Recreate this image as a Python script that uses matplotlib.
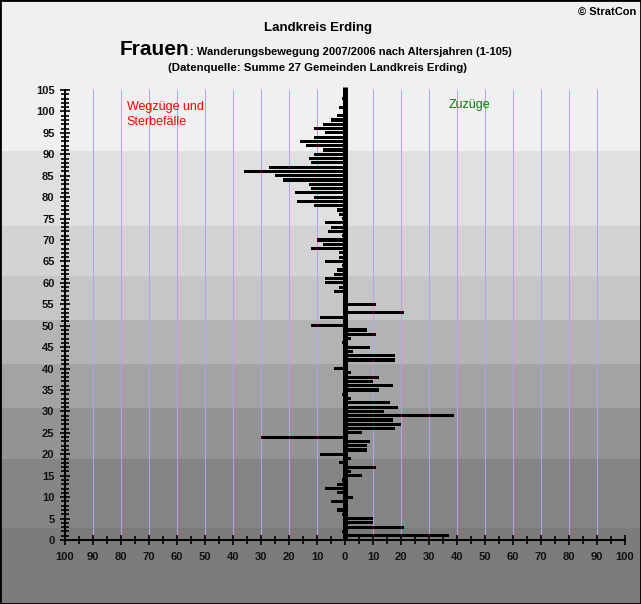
import matplotlib
matplotlib.use("Agg")
import matplotlib.pyplot as plt
from matplotlib.patches import Rectangle
from matplotlib.ticker import MultipleLocator, FuncFormatter
import matplotlib.transforms as mtransforms

# net migration of women by age (negative = moves out / deaths)
ages = list(range(1, 106))
net = [
    37, -1, 21, 10, 10, -1, -3, 1, -5, 3,
    -3, -7, -3, -1, 6, 2, 11, -2, 2, -9,
    8, 8, 9, -30, 6, 18, 20, 17, 39, 14,
    19, 16, 2, -1, 12, 17, 10, 12, 2, -4,
    1, 18, 18, 3, 9, -1, 2, 11, 8, -12,
    0, -9, 21, 1, 11, 1, 0, -4, -2, -7,
    -7, -4, -3, -1, -7, -2, -2, -12, -8, -10,
    -1, -6, -5, -7, -1, -2, -3, -11, -17, -11,
    -18, -12, -13, -22, -25, -36, -27, -12, -13, -11,
    -8, -14, -16, -11, -7, -11, -8, -5, -3, 1,
    -2, 0, -1, 0, 0,
]

# age bands of the background shading (bottom to top)
band_edges = [-30, 2.9, 18.9, 30.9, 41.1, 51.4, 61.6, 73.3, 90.8, 140]
band_colors = ["#7b7b7b", "#858585", "#939393", "#a3a3a3", "#b4b4b4",
               "#c6c6c6", "#d3d3d3", "#e0e0e0", "#f0f0f0"]

W, H = 641, 604
fig = plt.figure(figsize=(W / 100, H / 100), dpi=100)
ax = fig.add_axes([65 / W, (H - 540) / H, 560 / W, 450 / H])
ax.patch.set_visible(False)

ax.set_xlim(-100, 100)
ax.set_ylim(0, 105)

band_tf = mtransforms.blended_transform_factory(fig.transFigure, ax.transData)
for lo, hi, col in zip(band_edges[:-1], band_edges[1:], band_colors):
    fig.add_artist(Rectangle((0, lo), 1, hi - lo, transform=band_tf,
                             facecolor=col, edgecolor="none", zorder=-5))

# cyan vertical grid, 1 px
for gx in range(-90, 101, 10):
    if gx != 0:
        ax.axvline(gx, color="#33e6e6", linewidth=0.72, antialiased=False,
                   zorder=1)

ax.barh(ages, net, height=0.72, color="black", zorder=3)
ax.plot([0, 0], [0, 105.6], color="black", linewidth=3.6,
        solid_capstyle="butt", zorder=4, clip_on=False)

for side in ["top", "right"]:
    ax.spines[side].set_visible(False)
ax.spines["left"].set_linewidth(1.4)
ax.spines["bottom"].set_linewidth(1.4)

ax.yaxis.set_major_locator(MultipleLocator(5))
ax.yaxis.set_minor_locator(MultipleLocator(1))
ax.xaxis.set_major_locator(MultipleLocator(10))
ax.xaxis.set_minor_locator(MultipleLocator(5))
ax.xaxis.set_major_formatter(FuncFormatter(lambda v, p: f"{abs(int(round(v)))}"))
ax.tick_params(axis="both", which="both", direction="inout", width=1.2,
               color="black")
ax.tick_params(axis="y", which="major", length=7, pad=4)
ax.tick_params(axis="y", which="minor", length=6)
ax.tick_params(axis="x", which="major", length=7, pad=5)
ax.tick_params(axis="x", which="minor", length=6)
for lab in ax.get_xticklabels() + ax.get_yticklabels():
    lab.set_fontfamily(["Liberation Sans", "DejaVu Sans"])
    lab.set_fontweight("bold")
    lab.set_fontsize(8)
    lab.set_color("#111111")

fam = ["Liberation Sans Narrow", "Liberation Sans", "DejaVu Sans"]
fig.text(636 / W, 1 - 12 / H, "© StratCon", ha="right", va="center",
         fontsize=8, fontweight="bold", family=fam)
fig.text(318 / W, 1 - 28 / H, "Landkreis Erding", ha="center", va="center",
         fontsize=9.5, fontweight="bold", family=fam)
t1 = fig.text(120 / W, 1 - 55 / H, "Frauen", ha="left", va="baseline",
              fontsize=15, fontweight="bold", family=fam)
fig.canvas.draw()
bb = t1.get_window_extent()
fig.text(bb.x1 / W, 1 - 55 / H,
         ": Wanderungsbewegung 2007/2006 nach Altersjahren (1-105)",
         ha="left", va="baseline", fontsize=8, fontweight="bold", family=fam)
fig.text(318 / W, 1 - 68 / H,
         "(Datenquelle: Summe 27 Gemeinden Landkreis Erding)",
         ha="center", va="center", fontsize=8.2, fontweight="bold", family=fam)

ax.text(-78, 99.3, "Wegzüge und\nSterbefälle", ha="left", va="center",
        color="red", fontsize=9, linespacing=1.35,
        family=["Liberation Sans", "DejaVu Sans"])
ax.text(37, 101.5, "Zuzüge", ha="left", va="center", color="#008000",
        fontsize=9, family=["Liberation Sans", "DejaVu Sans"])

fig.add_artist(Rectangle((0, 0), 1, 1, transform=fig.transFigure,
                         facecolor="none", edgecolor="black", linewidth=2,
                         zorder=10))

fig.savefig("out.png", dpi=100)
